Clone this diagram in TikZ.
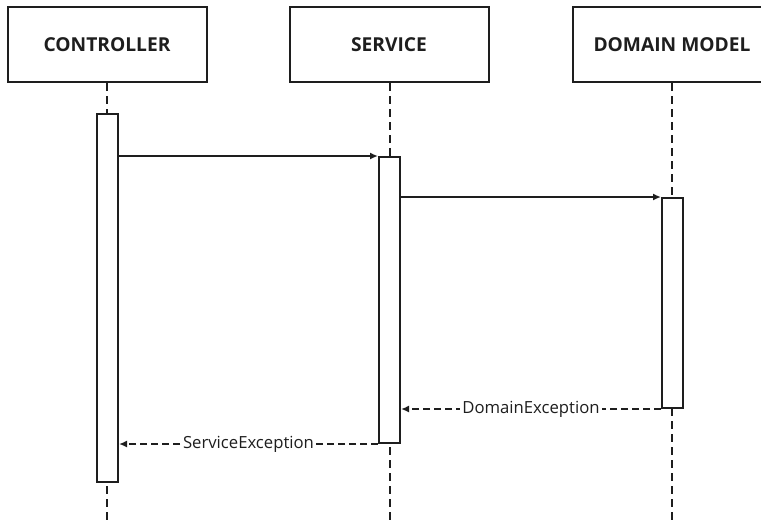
\documentclass[tikz,border=0pt]{standalone}
\usepackage{fontspec}
\setmainfont{Open Sans}
\usetikzlibrary{arrows.meta, positioning}
\definecolor{ink}{RGB}{30,30,30}

\begin{document}
\begin{tikzpicture}[x=1pt, y=-1pt,
    head/.style={rectangle, draw=ink, line width=2pt, fill=white,
                 minimum width=199pt, minimum height=75pt,
                 font=\fontsize{19.2}{22}\selectfont\bfseries, text=ink},
    bar/.style={rectangle, draw=ink, line width=2pt, fill=white,
                minimum width=21pt, inner sep=0pt},
    life/.style={draw=ink, line width=2pt, dash pattern=on 8pt off 5pt},
    call/.style={-{Latex[length=8pt, width=7pt]}, draw=ink, line width=2pt},
    reply/.style={call, dash pattern=on 7pt off 4pt},
    lbl/.style={fill=white, inner sep=2pt, font=\fontsize{16.7}{20}\selectfont, text=ink}
]
\useasboundingbox (0,0) rectangle (761,520);
% participants
\node[head] (ctrl) at (107,44.5) {CONTROLLER};
\node[head] (svc)  at (389,44.5) {SERVICE};
\node[head] (dom)  at (672,44.5) {DOMAIN MODEL};
% lifelines
\coordinate (ctrlend) at (107,522);
\coordinate (svcend)  at (390,522);
\coordinate (domend)  at (672,522);
\draw[life] (ctrl.south) -- (ctrlend);
\draw[life] (svc.south -| svcend) -- (svcend);
\draw[life] (dom.south) -- (domend);
% activations
\node[bar, minimum height=368pt] (ctrlbar) at (107.5,298) {};
\node[bar, minimum height=286pt] (svcbar)  at (389.5,300) {};
\node[bar, minimum height=210pt] (dombar)  at (672.5,303) {};
% messages
\draw[call] (ctrlbar.east |- svcbar.north) -- (svcbar.north west);
\draw[call] (svcbar.east |- dombar.north) -- (dombar.north west);
\draw[reply] (dombar.south west) -- node[lbl] {DomainException} (svcbar.east |- dombar.south);
\draw[reply] (svcbar.south west) -- node[lbl] {ServiceException} (ctrlbar.east |- svcbar.south);
\end{tikzpicture}
\end{document}
